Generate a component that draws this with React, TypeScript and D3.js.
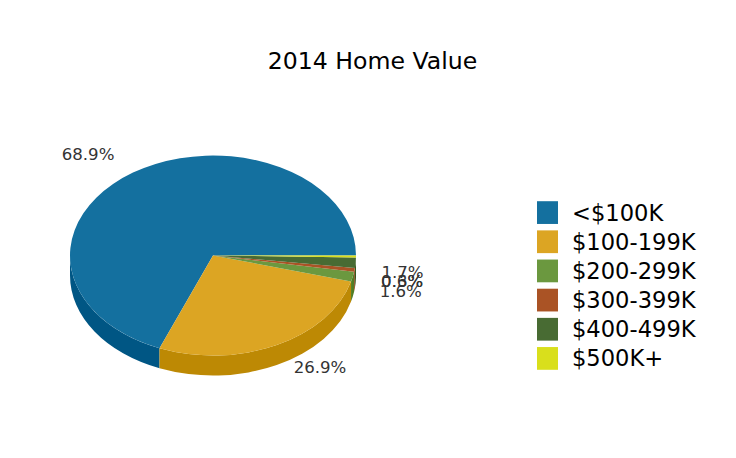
import React from 'react';
import * as d3 from 'd3';

const categories = ['<$100K', '$100-199K', '$200-299K', '$300-399K', '$400-499K', '$500K+'];
const values = [68.9, 26.9, 1.6, 0.6, 1.7, 0.3];
const labels = ['68.9%', '26.9%', '1.6%', '0.6%', '1.7%', '0.3%'];
const colors = ['#14709f', '#dca523', '#6b983f', '#aa5325', '#486b33', '#d9df1c'];
const wallColors = ['#005684', '#bd8904', '#517e25', '#903a0b', '#2e5119', '#bfc502'];

// hand nudges, the small labels pile up in the original
const labelDx = [1, 1, 0, 0, 0, 0];
const labelDy = [1, 4, 0, -3, -4.5, 11];

const width = 736;
const height = 458;
const cx = 213;
const cy = 255.5;
const rx = 143;
const ry = 100;
const depth = 20;
const font = '"DejaVu Sans", Verdana, sans-serif';

// ccw from 3 o'clock, in turns
const stack = d3.cumsum(values);
const total = stack[stack.length - 1];
const turn = d3.scaleLinear().domain([0, total]).range([0, 2 * Math.PI]);
const slices = values.map((v, i) => ({ i, a0: turn(stack[i] - v), a1: turn(stack[i]) }));

const px = (a: number) => cx + rx * Math.cos(a);
const py = (a: number) => cy - ry * Math.sin(a);

function topPath(a0: number, a1: number) {
  const large = a1 - a0 > Math.PI ? 1 : 0;
  return `M${cx},${cy}L${px(a0)},${py(a0)}A${rx},${ry} 0 ${large} 0 ${px(a1)},${py(a1)}Z`;
}

// only the lower half of the ellipse shows a wall
function wallPath(a0: number, a1: number) {
  const s = Math.max(a0, Math.PI);
  const e = Math.min(a1, 2 * Math.PI);
  if (e <= s) return null;
  return `M${px(s)},${py(s)}A${rx},${ry} 0 0 0 ${px(e)},${py(e)}L${px(e)},${py(e) + depth}A${rx},${ry} 0 0 1 ${px(s)},${py(s) + depth}Z`;
}

function labelPos(a: number, i: number) {
  const c = Math.cos(a);
  const s = Math.sin(a);
  const r = 168 + 12 * Math.abs(s);
  const y = s > 0 ? 255 - 122 * s + 5 : 255 - 105 * s + 20;
  return { x: cx + r * c + labelDx[i], y: y + labelDy[i], anchor: c > 0 ? 'start' : 'end' };
}

const legendY = d3.scaleBand<string>().domain(categories).range([198, 373]).paddingInner(0.22).paddingOuter(0.11);

export default function App() {
  return (
    <svg width={width} height={height} style={{ position: 'absolute', left: 0, top: 0, background: '#fff' }}>
      <text x={372.5} y={69} textAnchor="middle" fontFamily={font} fontSize={23.6} fill="#000">2014 Home Value</text>
      {slices.map(d => {
        const p = wallPath(d.a0, d.a1);
        return p ? <path key={d.i} d={p} fill={wallColors[d.i]} /> : null;
      })}
      {slices.map(d => <path key={d.i} d={topPath(d.a0, d.a1)} fill={colors[d.i]} />)}
      {slices.map(d => {
        const l = labelPos((d.a0 + d.a1) / 2, d.i);
        return (
          <text key={d.i} x={l.x} y={l.y} textAnchor={l.anchor} fontFamily={font} fontSize={16.6} fill="#333">
            {labels[d.i]}
          </text>
        );
      })}
      {categories.map((c, i) => (
        <g key={c} transform={`translate(0,${legendY(c)})`}>
          <rect x={537} y={0} width={21} height={legendY.bandwidth()} fill={colors[i]} />
          <text x={572} y={legendY.bandwidth() / 2 + 8} fontFamily={font} fontSize={22.6} fill="#000">{c}</text>
        </g>
      ))}
    </svg>
  );
}
